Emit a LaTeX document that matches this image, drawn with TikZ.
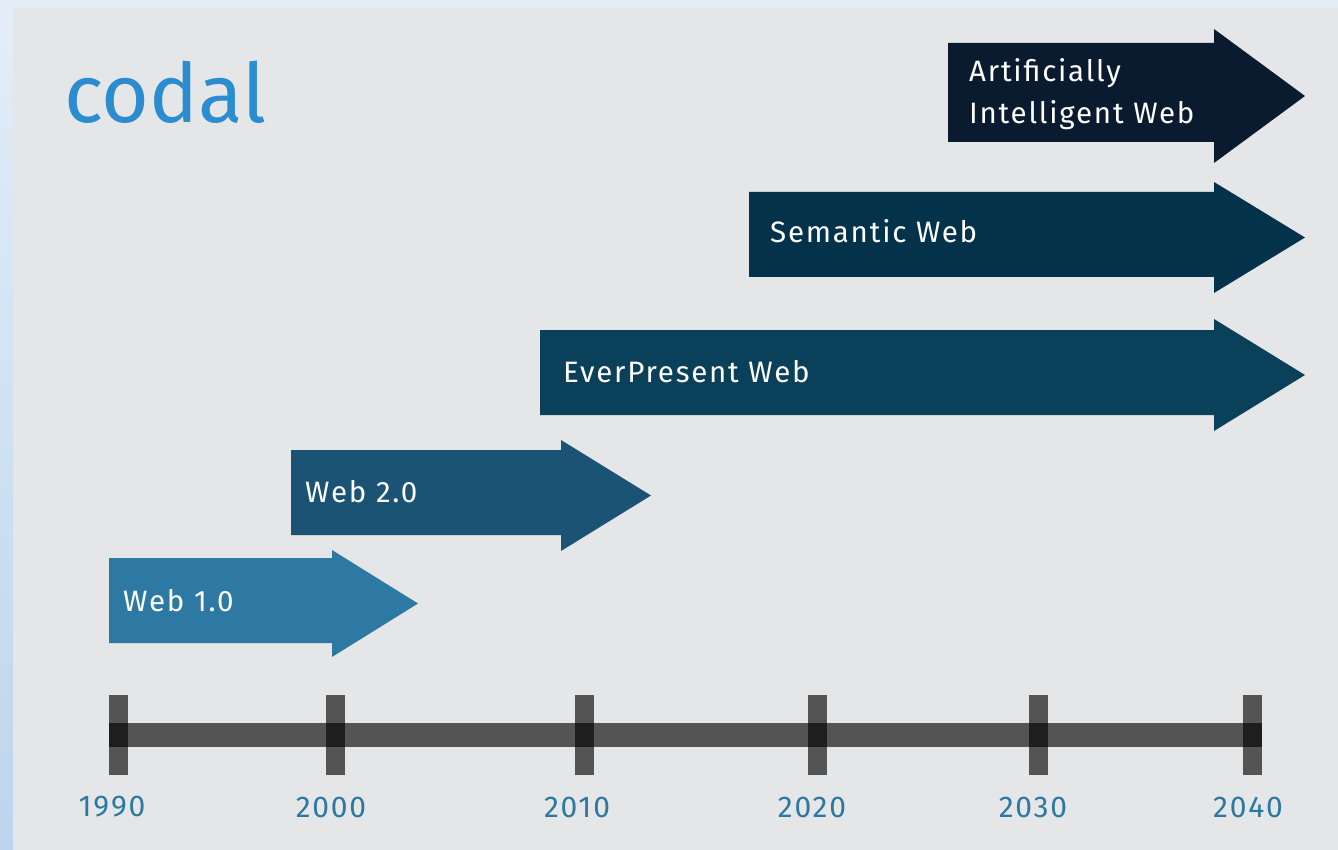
\documentclass[tikz,border=0pt]{standalone}
\usepackage{fontspec}
\setmainfont[LetterSpace=6]{Fira Sans}
\newfontfamily\codalfont{Fira Sans}
\usetikzlibrary{calc}
\definecolor{bgtop}{HTML}{E3EEF8}
\definecolor{bgbot}{HTML}{BCD5EE}
\definecolor{panel}{HTML}{E5E6E8}
\definecolor{codalblue}{HTML}{2B8CD0}
\definecolor{yearblue}{HTML}{2C78A0}
\definecolor{cweba}{HTML}{2E79A4}
\definecolor{cwebb}{HTML}{1A5373}
\definecolor{cwebc}{HTML}{0A4059}
\definecolor{cwebd}{HTML}{03324A}
\definecolor{cwebe}{HTML}{0A1A2F}
\tikzset{
  lbl/.style={anchor=base west, inner sep=0pt, text=white, font=\fontsize{29.5}{42}\selectfont},
  tickmark/.style={minimum width=19pt, minimum height=80pt, inner sep=0pt, fill=black, fill opacity=0.63, draw=none},
  bar/.style={line width=24pt, draw=black, draw opacity=0.63, line cap=butt},
  year/.style={text=yearblue, inner sep=0pt, font=\fontsize{30}{36}\selectfont}
}
\begin{document}
\begin{tikzpicture}[x=1pt,y=-1pt]
\useasboundingbox (0,0) rectangle (1338,850);
\shade[top color=bgtop, bottom color=bgbot] (0,0) rectangle (1338,850);
\fill[panel] (13,8) rectangle (1338,850);
% logo
\node[anchor=base west, inner sep=0pt, text=codalblue, font=\codalfont\fontsize{82}{90}\selectfont] (logo) at (64,123) {codal};
% arrows
\fill[cweba] (109,558) -- (332,558) -- (332,550) -- (418,603.5) -- (332,657) -- (332,643) -- (109,643) -- cycle;
\fill[cwebb] (291,450) -- (561,450) -- (561,440) -- (651,495.5) -- (561,551) -- (561,535) -- (291,535) -- cycle;
\fill[cwebc] (540,330) -- (1214,330) -- (1214,319) -- (1305,375) -- (1214,431) -- (1214,415) -- (540,415) -- cycle;
\fill[cwebd] (749,192) -- (1214,192) -- (1214,182) -- (1305,237.5) -- (1214,293) -- (1214,277) -- (749,277) -- cycle;
\fill[cwebe] (948,43) -- (1214,43) -- (1214,29) -- (1305,96) -- (1214,163) -- (1214,142) -- (948,142) -- cycle;
% arrow labels
\node[lbl] (w1) at (123,611) {Web 1.0};
\node[lbl] (w2) at (305,502) {Web 2.0};
\node[lbl] (w3) at (563,382) {EverPresent Web};
\node[lbl] (w4) at (770,243) {Semantic Web};
\node[lbl] (w5a) at (969,82) {Artificially};
\node[lbl] (w5b) at (969,124) {Intelligent Web};
% timeline
\node[tickmark] (t1990) at (118.5,735) {};
\node[tickmark] (t2000) at (335.5,735) {};
\node[tickmark] (t2010) at (584.5,735) {};
\node[tickmark] (t2020) at (817.5,735) {};
\node[tickmark] (t2030) at (1038.5,735) {};
\node[tickmark] (t2040) at (1252.5,735) {};
\draw[bar] (t1990.west) -- (t2040.east);
\node[year] (y1990) at (112,807) {1990};
\node[year] (y2000) at (331,807) {2000};
\node[year] (y2010) at (577,807) {2010};
\node[year] (y2020) at (812,807) {2020};
\node[year] (y2030) at (1033,807) {2030};
\node[year] (y2040) at (1248,807) {2040};
\end{tikzpicture}
\end{document}
